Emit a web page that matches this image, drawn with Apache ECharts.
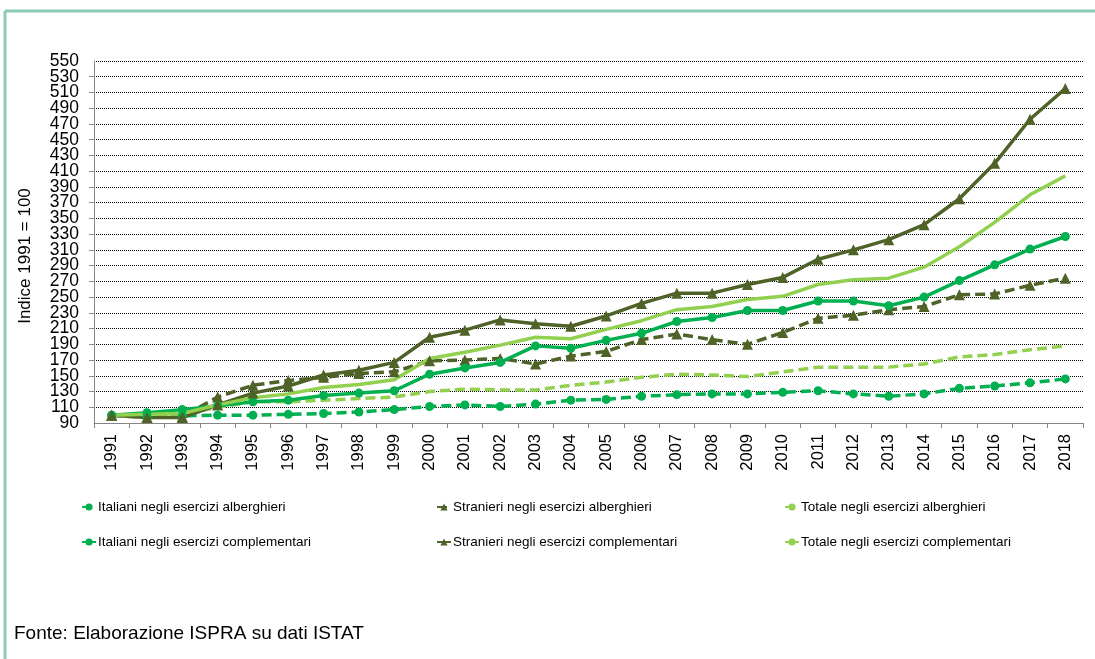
<!DOCTYPE html>
<html>
<head>
<meta charset="utf-8">
<title>Indice presenze 1991 = 100</title>
<script src="https://cdn.jsdelivr.net/npm/echarts@6/dist/echarts.min.js"></script>
<style>
	html, body { margin: 0; padding: 0; background: #fff; }
	#chart { width: 1095px; height: 659px; }
</style>
</head>
<body>
<div id="chart"></div>
<script>
var anni = ['1991', '1992', '1993', '1994', '1995', '1996', '1997', '1998', '1999', '2000',
	'2001', '2002', '2003', '2004', '2005', '2006', '2007', '2008', '2009', '2010',
	'2011', '2012', '2013', '2014', '2015', '2016', '2017', '2018'];

// esercizi alberghieri
var italianiAlb = [100, 98, 99, 100, 100, 101, 102, 104, 107, 111, 113, 111, 114, 119, 120, 124, 126, 127, 127, 129, 131, 127, 124, 127, 134, 137, 141, 146];
var stranieriAlb = [100, 97, 98, 123, 138, 144, 148, 153, 155, 169, 170, 172, 165, 175, 181, 196, 203, 196, 190, 205, 223, 227, 234, 238, 253, 254, 265, 274];
var totaleAlb = [100, 100, 101, 110, 117, 117, 119, 121, 123, 130, 133, 132, 132, 138, 142, 148, 152, 151, 149, 155, 161, 161, 161, 165, 174, 177, 183, 188];

// esercizi complementari
var italianiCompl = [100, 103, 107, 112, 117, 119, 125, 128, 131, 152, 160, 167, 188, 185, 195, 204, 219, 224, 233, 233, 245, 245, 239, 250, 271, 291, 311, 327];
var stranieriCompl = [100, 97, 97, 113, 128, 137, 151, 157, 167, 199, 208, 221, 216, 213, 226, 242, 255, 255, 266, 275, 298, 310, 323, 342, 375, 420, 476, 515];
var totaleCompl = [100, 101, 102, 113, 122, 127, 135, 139, 145, 172, 180, 189, 199, 197, 209, 220, 234, 238, 247, 251, 266, 272, 274, 288, 314, 345, 380, 404];

var yTicks = { min: 90, max: 550, step: 20 };

var verde = '#00b050';
var oliva = '#4f6228';
var verdeChiaro = '#92d050';
var sans = '"Liberation Sans", Arial, sans-serif';

init();
function init() {
	var chart = echarts.init(document.getElementById('chart'), null, { renderer: 'canvas' });

	function serie(nome, dati, colore, tratteggio, simbolo, dimensione) {
		return {
			name: nome,
			type: 'line',
			data: dati,
			yAxisIndex: 0,
			symbol: simbolo || 'none',
			symbolSize: dimensione || 0,
			showSymbol: !!simbolo,
			lineStyle: { color: colore, width: 3.5, type: tratteggio ? [10, 5] : 'solid' },
			itemStyle: { color: colore },
			emphasis: { disabled: true },
			animation: false
		};
	}

	function legenda(left, nomi) {
		return {
			left: left,
			top: 495,
			orient: 'vertical',
			itemWidth: 14,
			itemHeight: 9,
			itemGap: 21,
			selectedMode: false,
			textStyle: { fontFamily: sans, fontSize: 13.5, color: '#000', padding: [0, 0, 0, -3] },
			data: nomi
		};
	}

	var etichettaY = { color: '#000', fontSize: 17.5, fontFamily: sans, margin: 15 };

	var options = {
		backgroundColor: '#fff',
		textStyle: { fontFamily: sans },
		grid: { left: 94, top: 61, right: 12, bottom: 236 },
		legend: [
			legenda(76, ['Italiani negli esercizi alberghieri', 'Italiani negli esercizi complementari']),
			legenda(431, ['Stranieri negli esercizi alberghieri', 'Stranieri negli esercizi complementari']),
			legenda(779, ['Totale negli esercizi alberghieri', 'Totale negli esercizi complementari'])
		],
		xAxis: {
			type: 'category',
			data: anni,
			boundaryGap: true,
			axisLine: { lineStyle: { color: '#868686', width: 1 } },
			axisTick: { show: true, length: 5, lineStyle: { color: '#868686' } },
			axisLabel: { rotate: 90, margin: 11, color: '#000', fontSize: 16.5, fontFamily: sans, interval: 0 },
			splitLine: { show: false }
		},
		yAxis: [{
			type: 'value',
			min: yTicks.min,
			max: yTicks.max,
			interval: yTicks.step,
			axisLine: { show: true, lineStyle: { color: '#868686', width: 1 } },
			axisTick: { show: true, length: 5, lineStyle: { color: '#868686' } },
			// 90 e 550 li scrive il secondo asse, altrimenti echarts nasconde 110 e 530
			axisLabel: Object.assign({ showMinLabel: false, showMaxLabel: false }, etichettaY),
			splitLine: { show: true, lineStyle: { color: '#000', width: 1, type: [1, 1] } }
		}, {
			type: 'value',
			position: 'left',
			min: yTicks.min,
			max: yTicks.max,
			interval: yTicks.step,
			axisLine: { show: false },
			axisTick: { show: false },
			axisLabel: Object.assign({
				showMinLabel: true, showMaxLabel: true,
				formatter: function(v) {
					return (v === yTicks.min || v === yTicks.max) ? String(v) : '';
				}
			}, etichettaY),
			splitLine: { show: false }
		}],
		series: [
			serie('Italiani negli esercizi alberghieri', italianiAlb, verde, true, 'circle', 9),
			serie('Stranieri negli esercizi alberghieri', stranieriAlb, oliva, true, 'triangle', 11),
			serie('Totale negli esercizi alberghieri', totaleAlb, verdeChiaro, true),
			serie('Italiani negli esercizi complementari', italianiCompl, verde, false, 'circle', 9),
			serie('Stranieri negli esercizi complementari', stranieriCompl, oliva, false, 'triangle', 11),
			serie('Totale negli esercizi complementari', totaleCompl, verdeChiaro, false)
		],
		graphic: [
			// cornice verde in alto e a sinistra
			{ type: 'line', shape: { x1: 5, y1: 11, x2: 1095, y2: 11 }, style: { stroke: '#88ccb4', lineWidth: 3 } },
			{ type: 'line', shape: { x1: 5, y1: 11, x2: 5, y2: 659 }, style: { stroke: '#88ccb4', lineWidth: 3 } },
			{
				type: 'text', x: 25, y: 256, rotation: Math.PI / 2,
				style: { text: 'Indice 1991 = 100', fontFamily: sans, fontSize: 17, fill: '#000', align: 'center', verticalAlign: 'middle' }
			},
			{
				type: 'text', left: 14, top: 624,
				style: { text: 'Fonte: Elaborazione ISPRA su dati ISTAT', fontFamily: sans, fontSize: 19, fill: '#000' }
			}
		]
	};

	chart.setOption(options);

	window.onresize = function() {
		setTimeout(function() {
			chart.resize();
		}, 200);
	};
}
</script>
</body>
</html>
